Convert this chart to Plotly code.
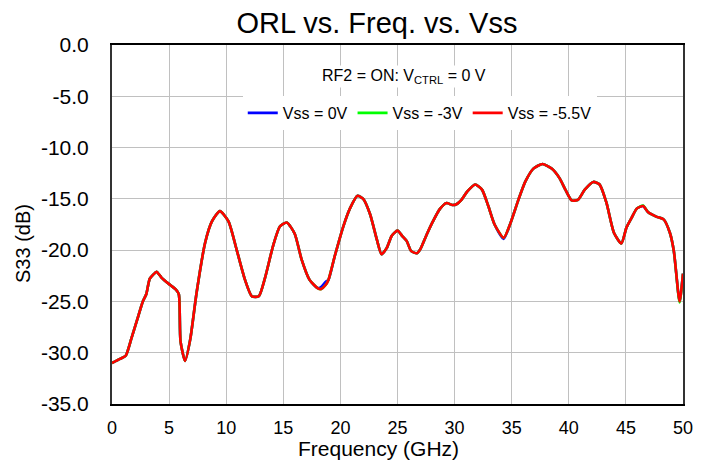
import plotly.graph_objects as go

freq = [0.0, 0.7, 1.2, 1.7, 2.2, 2.7, 3.0, 3.3, 3.6, 3.9, 4.35, 5.1, 5.6, 5.85, 6.0, 6.4, 6.85,
        7.4, 8.15, 8.75, 9.45, 10.2, 10.9, 11.65, 12.25, 12.85, 13.4, 14.1, 14.7, 15.3, 16.0,
        16.6, 17.3, 18.0, 18.3, 18.7, 18.95, 19.5, 20.25, 20.85, 21.5, 22.0, 22.6, 23.2, 23.6,
        24.05, 24.5, 25.0, 25.4, 25.8, 26.2, 26.7, 27.0, 27.55, 28.1, 28.7, 29.3, 29.8, 30.2,
        30.6, 31.1, 31.8, 32.4, 32.95, 33.5, 34.3, 34.85, 35.6, 36.2, 36.9, 37.7, 38.5, 39.2,
        39.7, 40.25, 40.8, 41.4, 42.15, 42.7, 43.3, 43.95, 44.6, 45.05, 45.5, 45.95, 46.5,
        46.95, 47.7, 48.3, 48.85, 49.2, 49.7, 50.0]

s33_vss_m55 = [-31.0, -30.6, -30.3, -28.6, -26.8, -25.0, -24.3, -22.8, -22.4, -22.1, -22.7, -23.4,
               -23.85, -24.3, -28.9, -30.8, -28.7, -24.2, -19.3, -17.2, -16.2, -17.2, -19.9, -22.9,
               -24.5, -24.5, -22.7, -19.6, -17.7, -17.3, -18.4, -20.9, -22.9, -23.7, -23.8, -23.4,
               -22.9, -20.6, -17.7, -15.9, -14.7, -15.0, -16.5, -19.0, -20.4, -19.8, -18.6, -18.1,
               -18.6, -19.1, -20.1, -20.3, -19.9, -18.5, -17.2, -16.0, -15.4, -15.6, -15.5, -15.1,
               -14.3, -13.6, -14.1, -15.7, -17.5, -18.8, -17.5, -15.05, -13.3, -12.05, -11.6,
               -12.05, -13.0, -14.1, -15.15, -15.1, -14.1, -13.35, -13.6, -15.4, -18.3, -19.35,
               -17.8, -16.85, -15.95, -15.7, -16.3, -16.75, -17.0, -18.3, -20.1, -25.0, -22.3]

s33_vss_m3 = [-31.0, -30.6, -30.3, -28.6, -26.8, -25.0, -24.3, -22.8, -22.4, -22.1, -22.7, -23.4,
              -23.85, -24.3, -28.9, -30.8, -28.7, -24.2, -19.3, -17.2, -16.2, -17.2, -19.9, -22.9,
              -24.5, -24.5, -22.7, -19.6, -17.7, -17.3, -18.4, -20.9, -22.9, -23.7, -23.8, -23.4,
              -22.9, -20.6, -17.7, -15.9, -14.7, -15.0, -16.5, -19.0, -20.4, -19.8, -18.6, -18.1,
              -18.6, -19.1, -20.1, -20.3, -19.9, -18.5, -17.2, -16.0, -15.4, -15.6, -15.5, -15.1,
              -14.3, -13.6, -14.1, -15.7, -17.5, -18.8, -17.5, -15.05, -13.3, -12.05, -11.6,
              -12.05, -13.0, -14.1, -15.15, -15.1, -14.1, -13.35, -13.6, -15.4, -18.3, -19.35,
              -17.8, -16.85, -15.95, -15.65, -16.3, -16.75, -17.0, -18.3, -20.1, -25.1, -22.3]

s33_vss_0 = [-31.0, -30.6, -30.3, -28.6, -26.8, -25.0, -24.3, -22.8, -22.4, -22.1, -22.7, -23.4,
             -23.85, -24.3, -28.9, -30.8, -28.7, -24.2, -19.3, -17.2, -16.2, -17.2, -19.9, -22.9,
             -24.5, -24.5, -22.7, -19.6, -17.7, -17.3, -18.4, -20.9, -22.9, -23.7, -23.6, -23.1,
             -22.9, -20.6, -17.7, -15.9, -14.7, -15.0, -16.5, -19.0, -20.4, -19.8, -18.6, -18.1,
             -18.6, -19.1, -20.1, -20.3, -19.9, -18.5, -17.2, -16.0, -15.4, -15.6, -15.5, -15.1,
             -14.3, -13.6, -14.1, -15.7, -17.5, -18.9, -17.5, -15.05, -13.3, -12.05, -11.6,
             -12.05, -13.0, -14.1, -15.15, -15.1, -14.1, -13.35, -13.6, -15.4, -18.3, -19.35,
             -17.8, -16.85, -15.95, -15.7, -16.3, -16.75, -17.0, -18.3, -20.1, -25.0, -22.3]

x_ticks = [0, 5, 10, 15, 20, 25, 30, 35, 40, 45, 50]
y_ticks = [0, -5, -10, -15, -20, -25, -30, -35]
y_tick_labels = ["0.0", "-5.0", "-10.0", "-15.0", "-20.0", "-25.0", "-30.0", "-35.0"]

FONT = "Arial, Liberation Sans, sans-serif"

fig = go.Figure()
for name, ys, color in [("Vss = 0V", s33_vss_0, "#0000ff"),
                        ("Vss = -3V", s33_vss_m3, "#00ff00"),
                        ("Vss = -5.5V", s33_vss_m55, "#ff0000")]:
    fig.add_trace(go.Scatter(x=freq, y=ys, mode="lines", name=name,
                             line=dict(color=color, width=2.6, shape="spline", smoothing=0.6)))

fig.update_layout(
    width=707, height=468,
    margin=dict(l=112, r=24, t=45, b=64, autoexpand=False),
    paper_bgcolor="white", plot_bgcolor="white",
    font=dict(family=FONT, color="black"),
    title=dict(text="ORL vs. Freq. vs. Vss", x=377 / 707, xanchor="center",
               y=1 - 23 / 468, yanchor="middle", font=dict(size=29, family=FONT, color="black")),
    showlegend=True,
    legend=dict(orientation="h", x=0.229, xanchor="left", y=0.8106, yanchor="middle",
                bgcolor="white", font=dict(size=16, family=FONT, color="black"),
                itemwidth=30, tracegroupgap=0),
)

fig.update_xaxes(range=[0, 50], tickvals=x_ticks, ticktext=[str(v) for v in x_ticks],
                 showgrid=True, gridcolor="#c0c0c0", gridwidth=1,
                 showline=True, linecolor="black", linewidth=2, mirror=True,
                 ticks="", ticklabelstandoff=6, tickfont=dict(size=18, family=FONT, color="black"),
                 zeroline=False)
fig.update_yaxes(range=[-35, 0], tickvals=y_ticks, ticktext=y_tick_labels,
                 showgrid=True, gridcolor="#c0c0c0", gridwidth=1,
                 showline=True, linecolor="#333333", linewidth=2, mirror=True,
                 ticks="", ticklabelstandoff=17, tickfont=dict(size=21, family=FONT, color="black"),
                 zeroline=False)

fig.add_annotation(text="RF2 = ON: V<sub>CTRL</sub> = 0 V", xref="paper", yref="paper",
                   x=0.511, y=0.9136, xanchor="center", yanchor="middle", showarrow=False,
                   bgcolor="white", font=dict(size=16, family=FONT, color="black"))
fig.add_annotation(text="Frequency (GHz)", xref="paper", yref="paper",
                   x=(378 - 112) / 571, y=-(449 - 404) / 359, xanchor="center", yanchor="middle",
                   showarrow=False, font=dict(size=21, family=FONT, color="black"))
fig.add_annotation(text="S33 (dB)", xref="paper", yref="paper",
                   x=-(112 - 23) / 571, y=(404 - 244) / 359, xanchor="center", yanchor="middle",
                   textangle=-90, showarrow=False, font=dict(size=20, family=FONT, color="black"))

fig.write_html("out.html", config={"displayModeBar": False},
               post_script="document.body.style.margin='0';")
